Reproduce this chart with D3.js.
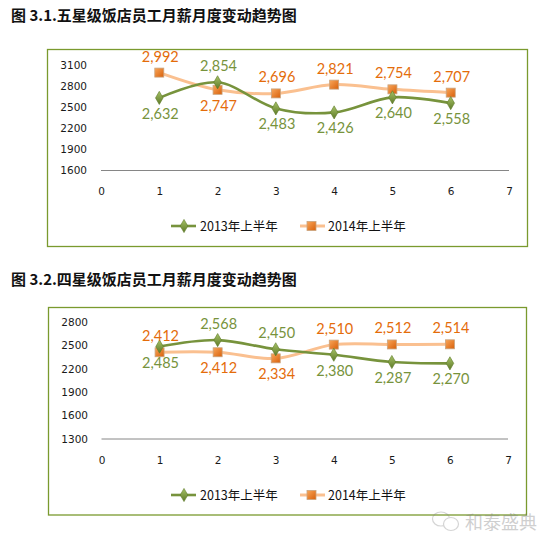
<!DOCTYPE html>
<html>
<head>
<meta charset="utf-8">
<script src="https://cdn.jsdelivr.net/npm/d3@7"></script>
<style>
  body { margin: 0; background: #fff; }
  svg { display: block; }
</style>
</head>
<body>
<svg id="chart" width="553" height="549"></svg>
<script>
// month positions and tick values
const months = [1, 2, 3, 4, 5, 6];
const xTicks = [0, 1, 2, 3, 4, 5, 6, 7];
const seriesNames = ["2013年上半年", "2014年上半年"];

// chart 3.1 five-star
const fiveTitle = "图 3.1.五星级饭店员工月薪月度变动趋势图";
const five2013 = [2632, 2854, 2483, 2426, 2640, 2558];
const five2014 = [2992, 2747, 2696, 2821, 2754, 2707];
const fiveYTicks = [1600, 1900, 2200, 2500, 2800, 3100];
const fiveSide2013 = ["below", "above", "below", "below", "below", "below"];
const fiveSide2014 = ["above", "below", "above", "above", "above", "above"];

// chart 3.2 four-star
const fourTitle = "图 3.2.四星级饭店员工月薪月度变动趋势图";
const four2013 = [2485, 2568, 2450, 2380, 2287, 2270];
const four2014 = [2412, 2412, 2334, 2510, 2512, 2514];
const fourYTicks = [1300, 1600, 1900, 2200, 2500, 2800];
const fourSide2013 = ["below", "above", "above", "below", "below", "below"];
const fourSide2014 = ["above", "below", "below", "above", "above", "above"];

const green = "#77933C", peach = "#FAC090", orange = "#E46C0A";
const svg = d3.select("#chart");

const defs = svg.append("defs");
const gg = defs.append("linearGradient").attr("id", "gGreen").attr("x1", 0).attr("y1", 0).attr("x2", 0).attr("y2", 1);
gg.append("stop").attr("offset", "0%").attr("stop-color", "#A6C266");
gg.append("stop").attr("offset", "100%").attr("stop-color", "#5E7A28");
const go = defs.append("linearGradient").attr("id", "gOrange").attr("x1", 0).attr("y1", 0).attr("x2", 1).attr("y2", 1);
go.append("stop").attr("offset", "0%").attr("stop-color", "#F9A65A");
go.append("stop").attr("offset", "100%").attr("stop-color", "#D8600A");

function drawChart(cfg) {
  const g = svg.append("g");

  g.append("text")
    .attr("x", 11).attr("y", cfg.titleY)
    .style("font-family", "'Noto Sans CJK SC'")
    .style("font-weight", "bold")
    .style("font-size", "15px")
    .attr("fill", "#111")
    .text(cfg.title);

  g.append("rect")
    .attr("x", cfg.box[0]).attr("y", cfg.box[1])
    .attr("width", cfg.box[2]).attr("height", cfg.box[3])
    .attr("fill", "none").attr("stroke", "#7A9A2E").attr("stroke-width", 1.3);

  const x = d3.scaleLinear().domain([0, 7]).range(cfg.xRange);
  const y = d3.scaleLinear().domain(d3.extent(cfg.yTicks)).range(cfg.yRange);

  // baseline
  g.append("line")
    .attr("x1", x(0)).attr("x2", x(7))
    .attr("y1", y(cfg.yTicks[0])).attr("y2", y(cfg.yTicks[0]))
    .attr("stroke", "#868686").attr("stroke-width", 1);

  const yAxis = g.append("g")
    .attr("transform", `translate(${cfg.yLabelX},0)`)
    .call(d3.axisLeft(y).tickValues(cfg.yTicks).tickFormat(d3.format("d")).tickSize(0).tickPadding(0));
  yAxis.select(".domain").remove();
  yAxis.selectAll("text")
    .style("font-family", "'DejaVu Sans'").style("font-size", "10.5px").attr("fill", "#1a1a1a");

  const xAxis = g.append("g")
    .attr("transform", `translate(0,${cfg.xLabelY})`)
    .call(d3.axisBottom(x).tickValues(xTicks).tickFormat(d3.format("d")).tickSize(0).tickPadding(0));
  xAxis.select(".domain").remove();
  xAxis.selectAll("text")
    .style("font-family", "'DejaVu Sans'").style("font-size", "10.5px").attr("fill", "#1a1a1a");

  const line = d3.line()
    .x((d, i) => x(months[i]))
    .y(d => y(d))
    .curve(d3.curveCardinal.tension(0));

  const fmt = d3.format(",");

  // 2014 series (peach line, orange squares)
  g.append("path").datum(cfg.s2014)
    .attr("d", line).attr("fill", "none")
    .attr("stroke", peach).attr("stroke-width", 3).attr("stroke-linecap", "round");
  // 2013 series (green line, diamonds)
  g.append("path").datum(cfg.s2013)
    .attr("d", line).attr("fill", "none")
    .attr("stroke", green).attr("stroke-width", 2.6).attr("stroke-linecap", "round");

  g.selectAll(".sq").data(cfg.s2014).enter().append("rect")
    .attr("x", (d, i) => x(months[i]) - 4.5).attr("y", d => y(d) - 4.5)
    .attr("width", 9).attr("height", 9)
    .attr("fill", "url(#gOrange)").attr("stroke", "#C9A37E").attr("stroke-width", 0.8);

  const diamond = d3.symbol().type(d3.symbolDiamond).size(50);
  g.selectAll(".dm").data(cfg.s2013).enter().append("path")
    .attr("d", diamond)
    .attr("transform", (d, i) => `translate(${x(months[i])},${y(d)})`)
    .attr("fill", "url(#gGreen)").attr("stroke", "#5E7A28").attr("stroke-width", 0.6);

  function labels(data, sides, color) {
    g.selectAll(null).data(data).enter().append("text")
      .attr("x", (d, i) => x(months[i]) + 1)
      .attr("y", (d, i) => y(d) + (sides[i] === "above" ? -11 : 21))
      .attr("text-anchor", "middle")
      .style("font-family", "Lato").style("font-size", "14.5px")
      .attr("fill", color)
      .text(d => fmt(d));
  }
  labels(cfg.s2013, cfg.side2013, green);
  labels(cfg.s2014, cfg.side2014, orange);

  // legend
  const ly = cfg.legendY;
  const lg = g.append("g");
  lg.append("line").attr("x1", 171).attr("x2", 196).attr("y1", ly).attr("y2", ly)
    .attr("stroke", green).attr("stroke-width", 2.6);
  lg.append("path").attr("d", diamond).attr("transform", `translate(184,${ly})`)
    .attr("fill", "url(#gGreen)").attr("stroke", "#5E7A28").attr("stroke-width", 0.6);
  lg.append("text").attr("x", 200).attr("y", ly + 4.5)
    .style("font-family", "'Noto Sans CJK SC'").style("font-size", "12.5px").attr("fill", "#111")
    .text(seriesNames[0]);
  lg.append("line").attr("x1", 300).attr("x2", 325).attr("y1", ly).attr("y2", ly)
    .attr("stroke", peach).attr("stroke-width", 3);
  lg.append("rect").attr("x", 307).attr("y", ly - 4.5).attr("width", 9).attr("height", 9)
    .attr("fill", "url(#gOrange)").attr("stroke", "#C9A37E").attr("stroke-width", 0.8);
  lg.append("text").attr("x", 328).attr("y", ly + 4.5)
    .style("font-family", "'Noto Sans CJK SC'").style("font-size", "12.5px").attr("fill", "#111")
    .text(seriesNames[1]);
}

drawChart({
  title: fiveTitle, titleY: 21,
  box: [47.5, 49.5, 480, 197],
  xRange: [101, 509], yRange: [170.5, 65],
  yTicks: fiveYTicks, yLabelX: 87, xLabelY: 188,
  s2013: five2013, s2014: five2014,
  side2013: fiveSide2013, side2014: fiveSide2014,
  legendY: 226
});

drawChart({
  title: fourTitle, titleY: 285,
  box: [48.5, 307.5, 478, 207.5],
  xRange: [101.5, 508], yRange: [439, 322],
  yTicks: fourYTicks, yLabelX: 88, xLabelY: 457,
  s2013: four2013, s2014: four2014,
  side2013: fourSide2013, side2014: fourSide2014,
  legendY: 495
});

// watermark
const wm = svg.append("g").attr("opacity", 0.35);
wm.append("ellipse").attr("cx", 441).attr("cy", 519).attr("rx", 8.5).attr("ry", 7)
  .attr("fill", "none").attr("stroke", "#888").attr("stroke-width", 1.2);
wm.append("ellipse").attr("cx", 451).attr("cy", 524).attr("rx", 7.5).attr("ry", 6.5)
  .attr("fill", "#fff").attr("stroke", "#888").attr("stroke-width", 1.2);
wm.append("text").attr("x", 465).attr("y", 529)
  .style("font-family", "'Noto Sans CJK SC'").style("font-size", "18px").attr("fill", "#777")
  .text("和泰盛典");
</script>
</body>
</html>
